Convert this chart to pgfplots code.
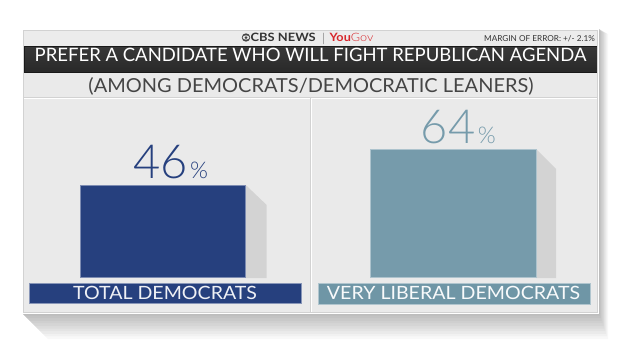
\documentclass[border=0pt]{standalone}
\usepackage{pgfplots}
\pgfplotsset{compat=1.18}
\usepackage{fontspec}
\setmainfont{Lato}
\newfontfamily\lightfont{Lato Light}
\definecolor{cbsblue}{HTML}{26407E}
\definecolor{cbsteal}{HTML}{769BAB}
\definecolor{stripteal}{HTML}{6F96A6}
\definecolor{cardbg}{HTML}{EAEAEA}
\definecolor{headbg}{HTML}{ECECEC}
\definecolor{linec}{HTML}{D2D2D2}
\definecolor{txtgray}{HTML}{454545}
\definecolor{shadowc}{HTML}{D3D3D3}
\definecolor{ygred}{HTML}{D7262B}
\newcommand{\valfont}{\lightfont\fontsize{47}{47}\selectfont}
\newcommand{\pctlabel}{\rlap{\hspace{2.5pt}\lightfont\fontsize{23}{23}\selectfont\%}}
\begin{document}
\begin{tikzpicture}
\begin{scope}[x=1pt,y=-1pt]
\fill[white] (0,0) rectangle (620,349);
% card shadow (cast down-right)
\foreach \i in {1,...,10}{
  \fill[black,opacity=0.028] (22,313) -- (22+2.6*\i,313+2.6*\i) -- (599+0.9*\i,313+2.6*\i) -- (599+0.9*\i,31+0.3*\i) -- (599,29) -- cycle;
}
\fill[white] (21,28.5) rectangle (599,313.5);
\fill[cardbg] (23,30) rectangle (597,312);
\fill[headbg] (23,30) rectangle (597,46);
% title bar
\shade[top color=black!78, bottom color=black!84] (24,46.5) rectangle (597,72.5);
\draw[black!90, line width=0.8] (24,46.5) rectangle (597,72.5);
% subtitle row and panels
\draw[linec, line width=0.8] (23,97) -- (597,97);
\draw[white, line width=0.6] (23,98) -- (597,98);
\draw[linec, line width=0.8] (310,97) -- (310,312);
\draw[white, line width=0.6] (311,98) -- (311,312);
\draw[linec, line width=0.6] (23,30) rectangle (597,312);
% header
\fill[txtgray] (246,37.5) circle (4.2);
\fill[headbg] (246,37.5) ellipse (3.3 and 2.2);
\fill[txtgray] (246,37.5) circle (1.5);
\node[anchor=base west, inner sep=0, text=black!80, font=\fontsize{11.5}{11.5}\selectfont] at (250.5,41.7) {\scalebox{1.12}[1]{\bfseries CBS NEWS}};
\node[anchor=base, inner sep=0, text=black!40, font=\fontsize{12}{12}\selectfont] at (323.5,42.2) {|};
\node[anchor=base west, inner sep=0, font=\fontsize{11.5}{11.5}\selectfont] at (329.5,41.7) {\scalebox{1.1}[1]{\textcolor{ygred}{\bfseries You}\textcolor{ygred}{\lightfont Gov}}};
\node[anchor=base east, inner sep=0, text=black!80, font=\fontsize{8.2}{8.2}\selectfont] at (595,41) {MARGIN OF ERROR: +/- 2.1\%};
% titles
\node[anchor=base, inner sep=0, text=white, font=\fontsize{18.5}{18.5}\selectfont] at (310.5,61.3) {PREFER A CANDIDATE WHO WILL FIGHT REPUBLICAN AGENDA};
\node[anchor=base, inner sep=0, text=txtgray, font=\fontsize{19.3}{19.3}\selectfont] at (311,92.8) {\scalebox{1.035}[1]{(AMONG DEMOCRATS/DEMOCRATIC LEANERS)}};
\end{scope}

\begin{axis}[at={(24pt,-277pt)}, anchor=south west, scale only axis,
  width=573pt, height=200pt, xmin=0, xmax=573, ymin=0, ymax=100,
  hide axis, clip=false]
% shadows
\addplot[fill=shadowc, draw=none] coordinates {(221.7,46) (242.7,36) (242.7,-0.6) (221.7,-0.6)} -- cycle;
\addplot[fill=shadowc, draw=none] coordinates {(512,64) (532,54) (532,-0.6) (512,-0.6)} -- cycle;
% bars
\addplot[ybar, bar shift=0pt, bar width=165.7, fill=cbsblue, draw=cbsblue!60!white, line width=0.6,
  nodes near coords={\valfont\pgfmathprintnumber[assume math mode=true]{\pgfplotspointmeta}\pctlabel},
  every node near coord/.append style={anchor=base, inner sep=0, yshift=6.5pt, xshift=-2.5pt, text=cbsblue}]
  coordinates {(138.8,46)};
\addplot[ybar, bar shift=0pt, bar width=166, fill=cbsteal, draw=cbsteal!60!white, line width=0.6,
  nodes near coords={\valfont\pgfmathprintnumber[assume math mode=true]{\pgfplotspointmeta}\pctlabel},
  every node near coord/.append style={anchor=base, inner sep=0, yshift=5.5pt, xshift=-5pt, text=cbsteal}]
  coordinates {(429,64)};
\end{axis}

\begin{scope}[x=1pt,y=-1pt]
\fill[cbsblue] (29.5,283) rectangle (301,303.7);
\draw[cbsblue!55!white, line width=0.7] (29.5,283) rectangle (301,303.7);
\node[anchor=base, inner sep=0, text=white!92!cbsblue, font=\fontsize{18.3}{18.3}\selectfont] at (165,299.4) {\scalebox{1.07}[1]{TOTAL DEMOCRATS}};
\fill[stripteal] (318,283) rectangle (590.7,304);
\draw[stripteal!55!white, line width=0.7] (318,283) rectangle (590.7,304);
\node[anchor=base, inner sep=0, text=white!95!stripteal, font=\fontsize{18.3}{18.3}\selectfont] at (453.5,299.8) {\scalebox{1.07}[1]{VERY LIBERAL DEMOCRATS}};
\end{scope}
\end{tikzpicture}
\end{document}
